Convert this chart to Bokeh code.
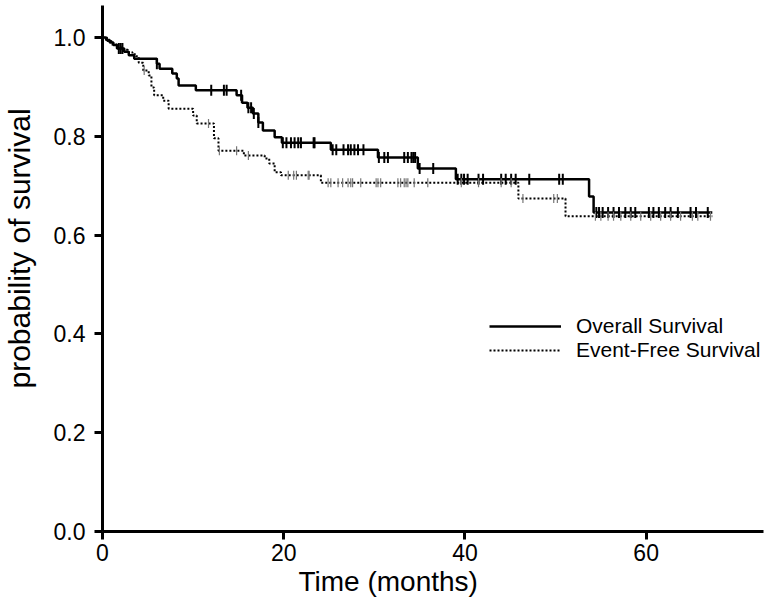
import numpy as np
from bokeh.plotting import figure
from bokeh.models import Range1d, FixedTicker, PrintfTickFormatter, Legend, LegendItem, Title
from bokeh.embed import file_html
from bokeh.resources import INLINE

# Overall survival step function (months, probability)
os_time = [0, 0.4, 0.8, 1.2, 1.6, 2.4, 2.9, 3.5, 6.0, 6.3, 7.7, 8.2, 8.4, 10.3, 14.8, 15.4, 16.0,
           16.6, 17.2, 17.7, 19.0, 19.8, 25.2, 30.4, 34.8, 39.0, 53.7, 54.2, 67.3]
os_surv = [1.0, 0.995, 0.99, 0.985, 0.978, 0.971, 0.964, 0.957, 0.947, 0.937, 0.927, 0.917, 0.903,
           0.893, 0.883, 0.868, 0.858, 0.846, 0.828, 0.812, 0.798, 0.787, 0.773, 0.757, 0.735, 0.713,
           0.678, 0.646, 0.646]
os_censor = [1.8, 2.0, 2.2, 6.0, 12.0, 13.4, 13.7, 15.3, 16.1, 16.4, 16.7, 17.2, 19.9, 20.3, 20.8,
             21.2, 21.6, 21.9, 23.3, 23.4, 25.4, 25.8, 26.6, 27.1, 27.4, 27.8, 28.2, 28.8, 30.5, 31.1,
             31.5, 33.3, 33.7, 34.1, 34.3, 34.5, 35.0, 36.5, 39.2, 39.6, 39.9, 40.3, 41.5, 42.0, 44.0,
             44.5, 45.1, 45.6, 47.1, 50.4, 50.8, 54.5, 54.8, 55.2, 55.8, 56.4, 57.0, 57.7, 58.3, 58.8,
             60.3, 60.8, 61.4, 62.1, 62.7, 63.5, 64.9, 65.5, 66.8]

# Event-free survival step function
efs_time = [0, 0.5, 1.0, 1.6, 2.2, 2.8, 3.3, 3.7, 4.0, 4.5, 5.1, 5.4, 5.7, 6.7, 7.3, 10.0, 10.4,
            12.3, 12.8, 15.6, 17.9, 18.4, 19.0, 19.7, 24.1, 45.9, 51.1, 67.3]
efs_surv = [1.0, 0.993, 0.986, 0.98, 0.975, 0.97, 0.966, 0.962, 0.949, 0.933, 0.923, 0.899, 0.883,
            0.872, 0.856, 0.842, 0.826, 0.796, 0.771, 0.761, 0.755, 0.745, 0.727, 0.721, 0.706,
            0.674, 0.638, 0.638]
efs_censor = [4.6, 11.7, 12.9, 14.8, 16.1, 20.5, 21.1, 21.4, 22.7, 22.8, 24.9, 25.2, 26.0, 26.5,
              27.1, 27.4, 27.6, 28.5, 30.2, 30.4, 30.7, 32.6, 32.9, 33.3, 33.5, 33.7, 34.4, 35.9,
              39.6, 41.5, 44.0, 45.1, 46.4, 49.8, 50.2, 54.4, 55.0, 55.8, 56.4, 57.2, 58.3, 59.4,
              60.5, 61.6, 62.7, 63.8, 65.1, 65.7, 67.1]

x_ticks = [0, 20, 40, 60]
y_ticks = [0.0, 0.2, 0.4, 0.6, 0.8, 1.0]
x_title = "Time (months)"
y_title = "probability of survival"
series_names = ["Overall Survival", "Event-Free Survival"]


def surv_at(times, surv, t):
    idx = np.searchsorted(np.asarray(times), np.asarray(t), side="right") - 1
    return np.asarray(surv)[idx]


FONT = "Liberation Sans"

p = figure(width=765, height=599, output_backend="svg", toolbar_location=None,
           x_range=Range1d(0, 72.95), y_range=Range1d(0, 1.0648),
           min_border_left=101, min_border_right=2, min_border_top=5, min_border_bottom=68)
p.outline_line_color = None
p.xgrid.visible = False
p.ygrid.visible = False

for ax in (p.xaxis[0], p.yaxis[0]):
    ax.axis_line_width = 3
    ax.axis_line_color = "black"
    ax.major_tick_line_width = 3
    ax.major_tick_line_color = "black"
    ax.major_tick_out = 8
    ax.major_tick_in = 0
    ax.minor_tick_line_color = None
    ax.major_label_text_font = FONT
    ax.major_label_text_font_size = "23px"
    ax.major_label_text_color = "black"
    ax.major_label_standoff = 4
p.yaxis.major_label_standoff = 9
# blank spacer label to push the title outward
p.yaxis.axis_label = " "
p.yaxis.axis_label_text_font_size = "7px"
p.yaxis.axis_label_standoff = 5

p.xaxis.ticker = FixedTicker(ticks=x_ticks)
p.yaxis.ticker = FixedTicker(ticks=y_ticks)
p.yaxis.formatter = PrintfTickFormatter(format="%.1f")

r_os = p.step(os_time, os_surv, mode="after", line_color="black", line_width=2.5)
r_efs = p.step(efs_time, efs_surv, mode="after", line_color="black", line_width=2,
               line_dash="2 2")

p.scatter(os_censor, surv_at(os_time, os_surv, os_censor), marker="dash", angle=np.pi / 2,
          size=11, line_color="black", line_width=2)
p.scatter(efs_censor, surv_at(efs_time, efs_surv, efs_censor), marker="dash", angle=np.pi / 2,
          size=9, line_color="#777777", line_width=1.2)

legend = Legend(items=[LegendItem(label=series_names[0], renderers=[r_os]),
                       LegendItem(label=series_names[1], renderers=[r_efs])],
                location=(387, 169), orientation="vertical")
legend.label_text_font = FONT
legend.label_text_font_size = "21px"
legend.label_text_color = "black"
legend.glyph_width = 72
legend.glyph_height = 20
legend.label_height = 20
legend.label_standoff = 15
legend.spacing = 0
legend.padding = 0
legend.margin = 0
legend.border_line_alpha = 0
legend.background_fill_alpha = 0
p.add_layout(legend)

xt = Title(text=x_title, align="left", offset=196, standoff=0, text_font=FONT,
           text_font_size="28px", text_font_style="normal", text_color="black")
p.add_layout(xt, "below")
yt = Title(text=y_title, align="left", offset=143, standoff=0,
           text_font=FONT, text_font_size="30px", text_font_style="normal", text_color="black")
p.add_layout(yt, "left")

open("out.html", "w").write(file_html(p, INLINE))
